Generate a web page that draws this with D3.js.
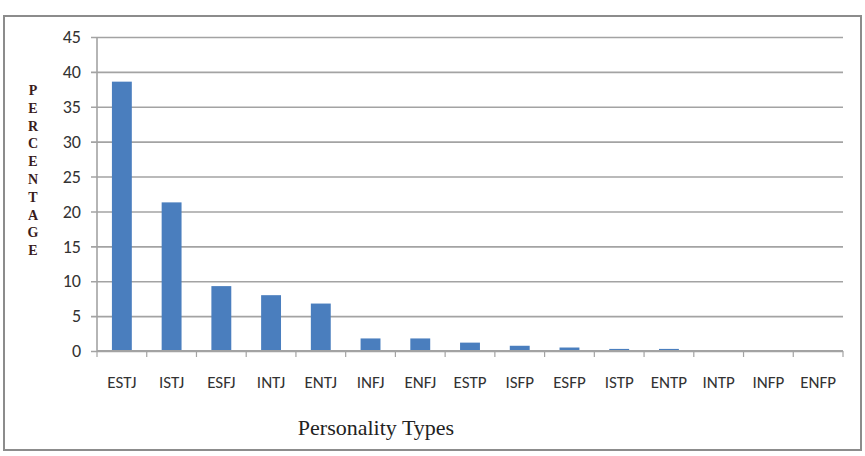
<!DOCTYPE html>
<html>
<head>
<meta charset="utf-8">
<script src="https://cdn.jsdelivr.net/npm/d3@7"></script>
<style>
  body { margin: 0; background: #fff; }
  svg { display: block; }
  .tick text { font-family: Carlito, Calibri, "Liberation Sans", sans-serif; fill: #333; }
</style>
</head>
<body>
<div id="graphic"></div>
<script>
// chart data
var categories = ['ESTJ', 'ISTJ', 'ESFJ', 'INTJ', 'ENTJ', 'INFJ', 'ENFJ', 'ESTP',
	'ISFP', 'ESFP', 'ISTP', 'ENTP', 'INTP', 'INFP', 'ENFP'];
var percentages = [38.6, 21.3, 9.3, 8.0, 6.8, 1.8, 1.8, 1.2, 0.75, 0.5, 0.3, 0.3, 0, 0, 0];
var yTicks = [0, 5, 10, 15, 20, 25, 30, 35, 40, 45];
var yLabelLetters = 'PERCENTAGE'.split('');
var xAxisLabel = 'Personality Types';

var width = 865, height = 456;
var margin = { top: 37, right: 22, bottom: 105, left: 97 };
var chart_width = width - margin.left - margin.right;
var chart_height = height - margin.top - margin.bottom;

var data = categories.map((c, i) => ({ name: c, value: percentages[i] }));

var svg = d3.select('#graphic')
	.append('svg')
	.attr('width', width)
	.attr('height', height);

// outer frame
svg.append('rect')
	.attr('x', 4).attr('y', 16)
	.attr('width', 857).attr('height', 434)
	.attr('fill', '#fff')
	.attr('stroke', '#8c8c8c')
	.attr('stroke-width', 2);

var g = svg.append('g')
	.attr('transform', 'translate(' + margin.left + ',' + margin.top + ')');

var x = d3.scaleBand()
	.domain(categories)
	.range([0, chart_width])
	.paddingInner(0.6)
	.paddingOuter(0.3);

var y = d3.scaleLinear().domain([0, 45]).range([chart_height, 0]);

// gridlines + y labels
var yAxis = d3.axisLeft(y).tickValues(yTicks).tickSize(-chart_width - 6).tickPadding(10);
g.append('g')
	.attr('class', 'y axis')
	.call(yAxis)
	.call((s) => s.select('.domain').remove())
	.call((s) => s.selectAll('.tick line')
		.attr('x1', -6)
		.attr('x2', chart_width)
		.attr('stroke', '#a3a3a3')
		.attr('stroke-width', 1.6))
	.call((s) => s.selectAll('.tick text').attr('x', -16).style('font-size', '18px'));

// y axis line
g.append('line')
	.attr('x1', 0).attr('x2', 0)
	.attr('y1', 0).attr('y2', chart_height)
	.attr('stroke', '#a3a3a3').attr('stroke-width', 1.6);

// bars
g.selectAll('rect.bar')
	.data(data)
	.join('rect')
	.attr('class', 'bar')
	.attr('x', (d) => x(d.name))
	.attr('y', (d) => y(d.value))
	.attr('width', x.bandwidth())
	.attr('height', (d) => y(0) - y(d.value))
	.attr('fill', '#4a7ebe');

// x axis with ticks between categories
var step = x.step();
g.append('line')
	.attr('x1', 0).attr('x2', chart_width)
	.attr('y1', chart_height).attr('y2', chart_height)
	.attr('stroke', '#a3a3a3').attr('stroke-width', 1.8);

g.selectAll('line.sep')
	.data(d3.range(categories.length + 1))
	.join('line')
	.attr('class', 'sep')
	.attr('x1', (i) => i * step).attr('x2', (i) => i * step)
	.attr('y1', chart_height).attr('y2', chart_height + 6)
	.attr('stroke', '#a3a3a3').attr('stroke-width', 1.2);

g.selectAll('text.xlab')
	.data(categories)
	.join('text')
	.attr('class', 'xlab')
	.attr('x', (d) => x(d) + x.bandwidth() / 2)
	.attr('y', chart_height + 37)
	.attr('text-anchor', 'middle')
	.style('font-family', 'Carlito, Calibri, "Liberation Sans", sans-serif')
	.style('font-size', '17px')
	.style('fill', '#333')
	.text((d) => d);

// x axis title
svg.append('text')
	.attr('x', 376)
	.attr('y', 435)
	.attr('text-anchor', 'middle')
	.style('font-family', '"Liberation Serif", "Times New Roman", serif')
	.style('font-size', '22px')
	.style('fill', '#222')
	.text(xAxisLabel);

// stacked vertical y title
svg.append('g')
	.selectAll('text')
	.data(yLabelLetters)
	.join('text')
	.attr('x', 33)
	.attr('y', (d, i) => 95 + i * 17.8)
	.attr('text-anchor', 'middle')
	.style('font-family', '"Liberation Serif", "Times New Roman", serif')
	.style('font-weight', 'bold')
	.style('font-size', '14px')
	.style('fill', '#3a1c1c')
	.text((d) => d);
</script>
</body>
</html>
